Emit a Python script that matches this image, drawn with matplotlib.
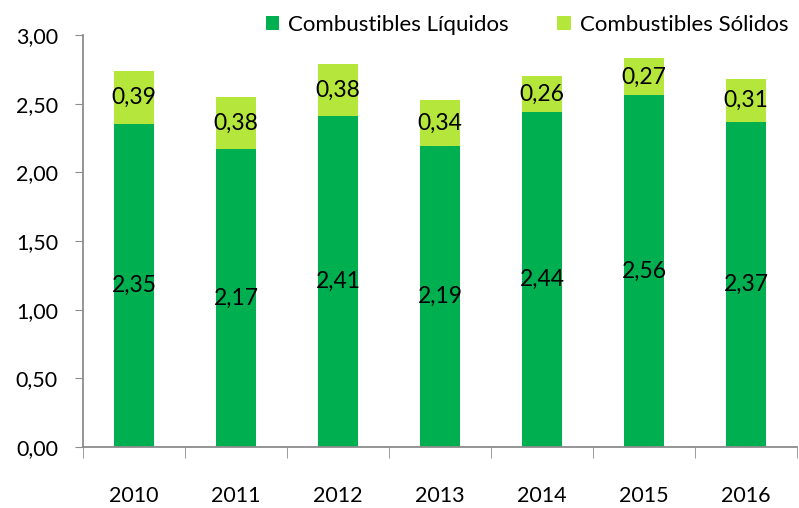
import numpy as np
import matplotlib
matplotlib.use("Agg")
import matplotlib.pyplot as plt
from matplotlib.ticker import FuncFormatter

years = ["2010", "2011", "2012", "2013", "2014", "2015", "2016"]
liquidos = [2.35, 2.17, 2.41, 2.19, 2.44, 2.56, 2.37]
solidos = [0.39, 0.38, 0.38, 0.34, 0.26, 0.27, 0.31]

DARK = "#00B050"
LIGHT = "#B4E63C"
GREY = "#8C8C8C"

plt.rcParams["font.family"] = ["Lato", "DejaVu Sans"]

fig = plt.figure(figsize=(7.99, 5.08), dpi=100)
ax = fig.add_axes([83 / 799, 61 / 508, 714 / 799, 412 / 508])

x = np.arange(len(years))
w = 0.39
ax.bar(x, liquidos, w, color=DARK, label="Combustibles Líquidos")
ax.bar(x, solidos, w, bottom=liquidos, color=LIGHT, label="Combustibles Sólidos")

def fmt(v):
    return f"{v:.2f}".replace(".", ",")

# etiquetas de valor centradas en cada tramo
for xi, l, s in zip(x, liquidos, solidos):
    ax.text(xi, l / 2, fmt(l), ha="center", va="center", fontsize=16.5)
    ax.text(xi, l + s / 2, fmt(s), ha="center", va="center", fontsize=16.5)

ax.set_xlim(-0.5, len(years) - 0.5)
ax.set_ylim(0, 3.0)
ax.set_yticks(np.arange(0, 3.01, 0.5))
ax.yaxis.set_major_formatter(FuncFormatter(lambda v, p: fmt(v)))
ax.set_xticks(x)
ax.set_xticklabels(years)
ax.set_xticks(np.arange(-0.5, len(years), 1.0), minor=True)
ax.tick_params(axis="x", which="major", length=0, pad=28, labelsize=15.5)
ax.tick_params(axis="x", which="minor", length=8, color=GREY, direction="out")
ax.tick_params(axis="y", length=6, color=GREY, labelsize=15.5, pad=12)

for side in ["top", "right"]:
    ax.spines[side].set_visible(False)
for side in ["left", "bottom"]:
    ax.spines[side].set_color(GREY)
    ax.spines[side].set_linewidth(1.3)

ax.legend(loc="upper right", bbox_to_anchor=(1.0, 1.07), ncol=2, frameon=False,
          fontsize=16, handlelength=0.6, handleheight=0.6, columnspacing=2.2,
          handletextpad=0.4, borderaxespad=0.0)

fig.savefig("out.png", dpi=100)
